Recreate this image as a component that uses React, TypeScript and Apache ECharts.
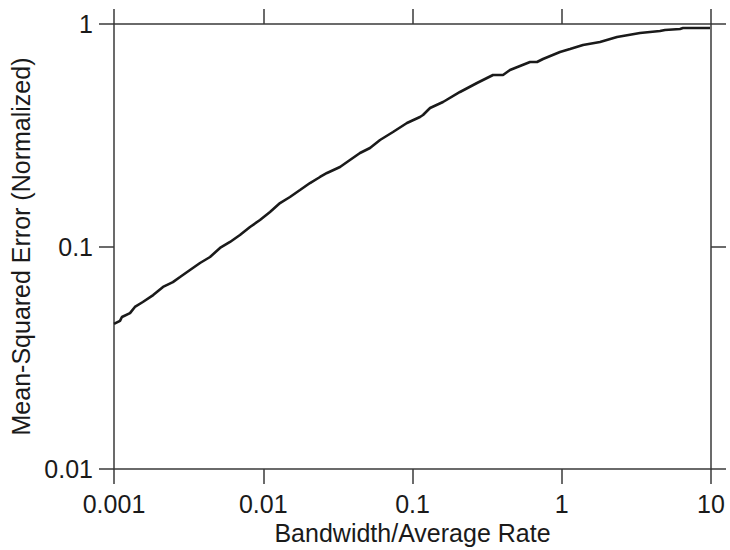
import React, { useEffect, useRef } from "react";
import * as echarts from "echarts";

const bandwidth: number[] = [
  0.001, 0.001097, 0.00113, 0.00128, 0.00138, 0.00156, 0.00183, 0.00213, 0.00248, 0.00277,
  0.00323, 0.00377, 0.0044, 0.00513, 0.00599, 0.00698, 0.00815, 0.00951, 0.0111, 0.01295,
  0.0151, 0.01763, 0.02057, 0.024, 0.02674, 0.03267, 0.0381, 0.0445, 0.0519, 0.0606,
  0.074, 0.0918, 0.1122, 0.1176, 0.1311, 0.1601, 0.2081, 0.2705, 0.3463, 0.4041,
  0.45, 0.6129, 0.6828, 0.7489, 0.973, 1.136, 1.388, 1.804, 2.346, 3.344,
  4.552, 4.918, 6.2, 6.493, 9.85,
];

const mse: number[] = [
  0.0449, 0.0463, 0.0482, 0.0502, 0.0535, 0.0563, 0.0605, 0.0658, 0.0692, 0.0729,
  0.0784, 0.0843, 0.0897, 0.0985, 0.1048, 0.1126, 0.1224, 0.1315, 0.1429, 0.1568,
  0.1669, 0.1794, 0.1929, 0.2053, 0.214, 0.2277, 0.2447, 0.2631, 0.2772, 0.3011,
  0.327, 0.359, 0.382, 0.39, 0.4194, 0.4461, 0.4948, 0.543, 0.5899, 0.5899,
  0.6213, 0.675, 0.675, 0.6963, 0.7484, 0.7721, 0.8047, 0.83, 0.874, 0.911,
  0.93, 0.94, 0.95, 0.959, 0.959,
];

const xTickLabels: string[] = ["0.001", "0.01", "0.1", "1", "10"];
const yTickLabels: string[] = ["0.01", "0.1", "1"];

const xName = "Bandwidth/Average Rate";
const yName = "Mean-Squared Error (Normalized)";

const FONT = "Liberation Sans, Arial, Helvetica, sans-serif";
const AXIS_COLOR = "#3a3a3a";
const TEXT_COLOR = "#1a1a1a";

function labelFor(list: string[], v: number): string {
  const hit = list.find((l) => Math.abs(Math.log10(Number(l)) - Math.log10(v)) < 1e-6);
  return hit ?? "";
}

export default function App() {
  const ref = useRef<HTMLDivElement>(null);

  useEffect(() => {
    if (!ref.current) return;
    const chart = echarts.init(ref.current, undefined, { renderer: "svg" });

    const axisLine = { show: true, lineStyle: { color: AXIS_COLOR, width: 1.5 } };
    const axisTick = { show: true, inside: false, length: 15, lineStyle: { color: AXIS_COLOR, width: 1.5 } };

    chart.setOption({
      animation: false,
      backgroundColor: "#ffffff",
      grid: {
        left: 114,
        right: 19,
        top: 24,
        bottom: 81,
        containLabel: false,
        outerBoundsMode: "none",
      },
      xAxis: [
        {
          type: "log",
          logBase: 10,
          min: 0.001,
          max: 10,
          position: "bottom",
          axisLine,
          axisTick,
          splitLine: { show: false },
          minorTick: { show: false },
          axisLabel: {
            margin: 22,
            fontSize: 25,
            fontFamily: FONT,
            color: TEXT_COLOR,
            formatter: (v: number) => labelFor(xTickLabels, v),
          },
          name: xName,
          nameLocation: "middle",
          nameGap: 50,
          nameTextStyle: { fontSize: 25, fontFamily: FONT, color: TEXT_COLOR },
        },
        {
          type: "log",
          logBase: 10,
          min: 0.001,
          max: 10,
          position: "top",
          axisLine,
          axisTick,
          splitLine: { show: false },
          axisLabel: { show: false },
        },
      ],
      yAxis: [
        {
          type: "log",
          logBase: 10,
          min: 0.01,
          max: 1,
          position: "left",
          axisLine,
          axisTick,
          splitLine: { show: false },
          minorTick: { show: false },
          axisLabel: {
            margin: 21,
            fontSize: 25,
            fontFamily: FONT,
            color: TEXT_COLOR,
            formatter: (v: number) => labelFor(yTickLabels, v),
          },
          name: yName,
          nameLocation: "middle",
          nameGap: 72,
          nameTextStyle: { fontSize: 25, fontFamily: FONT, color: TEXT_COLOR },
        },
        {
          type: "log",
          logBase: 10,
          min: 0.01,
          max: 1,
          position: "right",
          axisLine,
          axisTick,
          splitLine: { show: false },
          axisLabel: { show: false },
        },
      ],
      series: [
        {
          type: "line",
          xAxisIndex: 0,
          yAxisIndex: 0,
          data: bandwidth.map((x, i) => [x, mse[i]]),
          symbol: "none",
          smooth: false,
          lineStyle: { color: "#1a1a1a", width: 2.6 },
        },
      ],
    });

    return () => chart.dispose();
  }, []);

  return (
    <div
      ref={ref}
      style={{ position: "fixed", left: 0, top: 0, width: 730, height: 550, background: "#fff" }}
    />
  );
}
